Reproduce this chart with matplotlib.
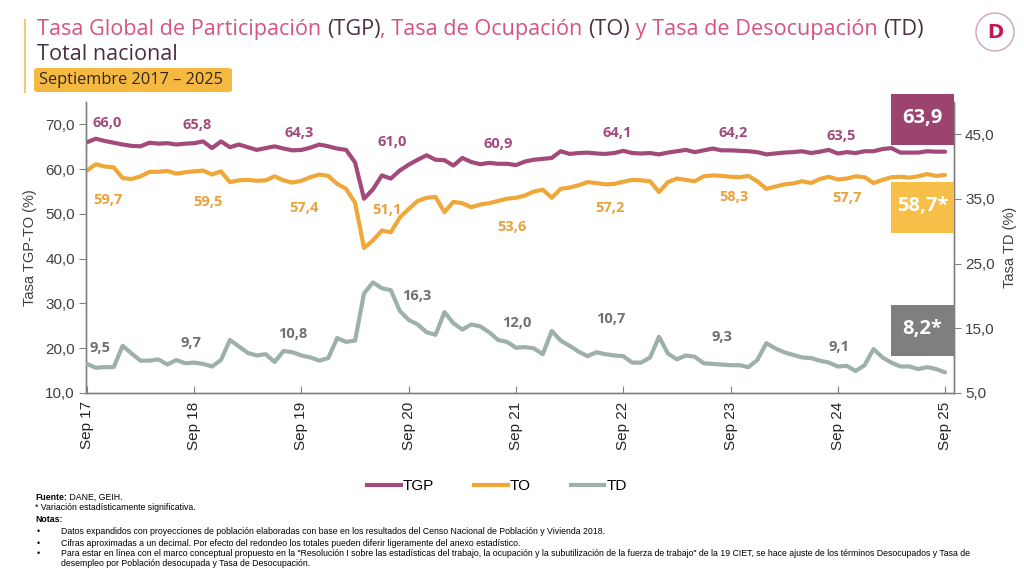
import numpy as np
import matplotlib
matplotlib.use("Agg")
import matplotlib.pyplot as plt
from matplotlib.patches import Rectangle, FancyBboxPatch, Ellipse
from matplotlib.lines import Line2D

# monthly series, Sep 2017 .. Sep 2025
tgp = [66.0, 66.8, 66.3, 65.9, 65.5, 65.2, 65.1, 65.9, 65.7, 65.8, 65.5, 65.7,
       65.8, 66.2, 64.7, 66.2, 64.9, 65.5, 64.9, 64.3, 64.7, 65.1, 64.6, 64.2,
       64.3, 64.8, 65.5, 65.1, 64.6, 64.3, 61.5, 53.4, 55.5, 58.6, 57.9, 59.7,
       61.0, 62.1, 63.1, 62.1, 62.0, 60.8, 62.5, 61.6, 61.1, 61.4, 61.2, 61.2,
       60.9, 61.7, 62.1, 62.3, 62.5, 64.0, 63.4, 63.6, 63.7, 63.5, 63.4, 63.6,
       64.1, 63.6, 63.5, 63.6, 63.3, 63.7, 64.0, 64.3, 63.8, 64.2, 64.6, 64.2,
       64.2, 64.1, 64.0, 63.8, 63.3, 63.5, 63.7, 63.8, 64.0, 63.6, 63.9, 64.3,
       63.5, 63.8, 63.6, 64.0, 64.0, 64.5, 64.7, 63.7, 63.7, 63.7, 64.0, 63.9,
       63.9]
to = [59.7, 61.1, 60.6, 60.4, 58.0, 57.8, 58.4, 59.4, 59.4, 59.6, 59.0, 59.3,
      59.5, 59.7, 58.8, 59.5, 57.1, 57.5, 57.6, 57.4, 57.5, 58.4, 57.5, 57.0,
      57.4, 58.2, 58.8, 58.5, 56.7, 55.6, 52.5, 42.4, 44.1, 46.3, 45.9, 49.2,
      51.1, 52.9, 53.6, 53.8, 50.4, 52.7, 52.4, 51.5, 52.1, 52.4, 52.9, 53.4,
      53.6, 54.1, 55.0, 55.4, 53.6, 55.6, 55.9, 56.4, 57.1, 56.9, 56.6, 56.7,
      57.2, 57.6, 57.5, 57.3, 54.9, 57.1, 57.9, 57.6, 57.3, 58.4, 58.6, 58.5,
      58.3, 58.2, 58.5, 57.3, 55.6, 56.1, 56.6, 56.8, 57.3, 56.9, 57.8, 58.3,
      57.7, 57.9, 58.4, 58.2, 56.9, 57.6, 58.2, 58.3, 58.1, 58.4, 58.9, 58.5,
      58.7]
td = [9.5, 8.9, 9.0, 9.0, 12.3, 11.1, 10.0, 10.0, 10.2, 9.4, 10.1, 9.6,
      9.7, 9.5, 9.1, 10.1, 13.2, 12.2, 11.2, 10.8, 11.0, 9.8, 11.5, 11.3,
      10.8, 10.5, 10.0, 10.4, 13.5, 12.9, 13.1, 20.4, 22.1, 21.2, 20.9, 17.7,
      16.3, 15.6, 14.4, 14.0, 17.5, 15.8, 14.8, 15.6, 15.3, 14.4, 13.2, 12.9,
      12.0, 12.1, 11.9, 11.0, 14.6, 13.1, 12.3, 11.4, 10.7, 11.3, 11.0, 10.8,
      10.7, 9.7, 9.7, 10.5, 13.7, 11.1, 10.2, 10.8, 10.6, 9.6, 9.5, 9.4,
      9.3, 9.3, 9.0, 10.1, 12.7, 11.9, 11.3, 10.9, 10.5, 10.4, 10.0, 9.7,
      9.1, 9.2, 8.4, 9.3, 11.8, 10.5, 9.7, 9.1, 9.1, 8.7, 9.0, 8.7,
      8.2]
tick_labels = ["Sep 17", "Sep 18", "Sep 19", "Sep 20", "Sep 21",
               "Sep 22", "Sep 23", "Sep 24", "Sep 25"]
significant = {"TGP": False, "TO": True, "TD": True}

# label offsets (pixels) from the September point of each year
tgp_off = [(20, 19), (3, 18), (-2, 17), (-17, 23), (-18, 21), (-6, 18), (3, 17), (3, 17)]
to_off = [(21, -30), (14, -31), (3, -27), (-22, -1), (-4, -29), (-13, -26), (3, -20), (9, -19)]
td_off = [(13, 16), (-3, 20), (-9, 21), (8, 24), (1, 25), (-12, 37), (-9, 28), (1, 19)]

C_TGP = "#A24A7B"
C_TO = "#F0A73A"
C_TD = "#9DB0AA"
C_PINK = "#D6547D"
C_DARK = "#4B2E44"

def fmt(v):
    return f"{v:.1f}".replace(".", ",")

def rich_line(fig, x, y, parts, **kw):
    # parts: (text, colour, weight)
    r = fig.canvas.get_renderer()
    W = fig.bbox.width
    for s, c, wt in parts:
        t = fig.text(x, y, s, color=c, va="center", ha="left", fontweight=wt, **kw)
        bb = t.get_window_extent(renderer=r)
        x += bb.width / W

months = np.arange(len(tgp))

fig = plt.figure(figsize=(10.24, 5.75), dpi=100)
ax = fig.add_axes([86 / 1024, 1 - 393 / 575, 868 / 1024, 291 / 575])
ax2 = ax.twinx()

ax.plot(months, tgp, color=C_TGP, lw=3, solid_joinstyle="round", solid_capstyle="round", zorder=3)
ax.plot(months, to, color=C_TO, lw=3, solid_joinstyle="round", solid_capstyle="round", zorder=3)
ax2.plot(months, td, color=C_TD, lw=3, solid_joinstyle="round", solid_capstyle="round", zorder=3)

ax.set_xlim(-0.1, 97.0)
ax.set_ylim(10, 75)
ax2.set_ylim(5, 50)
ax.set_yticks(np.arange(10, 71, 10))
ax2.set_yticks(np.arange(5, 46, 10))
ax.set_yticklabels([fmt(v) for v in np.arange(10, 71, 10)])
ax2.set_yticklabels([fmt(v) for v in np.arange(5, 46, 10)])
ax.set_xticks(np.arange(0, 97, 12))
ax.set_xticklabels(tick_labels, rotation=90)

for a in (ax, ax2):
    a.spines["top"].set_visible(False)
    for s in a.spines.values():
        s.set_color("#808080")
        s.set_linewidth(1)
ax.tick_params(axis="x", direction="in", length=5, color="#808080", labelsize=11,
               labelcolor="#262626", pad=6)
ax.tick_params(axis="y", direction="out", length=5, color="#808080", labelsize=11,
               labelcolor="#404040", pad=3)
ax2.tick_params(axis="y", direction="out", length=5, color="#808080", labelsize=11,
                labelcolor="#404040", pad=3)
for lab in ax.get_xticklabels() + ax.get_yticklabels() + ax2.get_yticklabels():
    lab.set_family("Liberation Sans")

ax.set_ylabel("Tasa TGP-TO (%)", family="Liberation Sans", fontsize=10.5, color="#404040", labelpad=6)
ax2.set_ylabel("Tasa TD (%)", family="Liberation Sans", fontsize=10.5, color="#404040",
               rotation=90, labelpad=6)

# yearly value labels
for k in range(8):
    i = 12 * k
    ax.annotate(fmt(tgp[i]), (i, tgp[i]), xytext=tgp_off[k], textcoords="offset pixels",
                ha="center", va="center", color=C_TGP, fontsize=10.5, fontweight="bold",
                family="Open Sans", zorder=4)
    ax.annotate(fmt(to[i]), (i, to[i]), xytext=to_off[k], textcoords="offset pixels",
                ha="center", va="center", color="#E9A23B", fontsize=10.5, fontweight="bold",
                family="Open Sans", zorder=4)
    ax2.annotate(fmt(td[i]), (i, td[i]), xytext=td_off[k], textcoords="offset pixels",
                 ha="center", va="center", color="#707070", fontsize=10.5, fontweight="bold",
                 family="Open Sans", zorder=4)

# last value boxes
boxes = [("TGP", tgp[-1], "#9C4470", 145), ("TO", to[-1], "#F7BE48", 233), ("TD", td[-1], "#7F7F7F", 356)]
for name, v, col, ybot in boxes:
    x0, w, h = 891 / 1024, 63 / 1024, 51 / 575
    y0 = 1 - ybot / 575
    fig.patches.append(Rectangle((x0, y0), w, h, transform=fig.transFigure,
                                 facecolor=col, edgecolor="none", zorder=5))
    txt = fmt(v) + ("*" if significant[name] else "")
    fig.text(x0 + w / 2, y0 + h / 2 + 0.002, txt, ha="center", va="center", color="white",
             fontsize=14.5, fontweight="bold", family="Open Sans", zorder=6)

# header
fig.add_artist(Line2D([25 / 1024, 25 / 1024], [1 - 20 / 575, 1 - 92 / 575],
                      color="#F6C978", lw=1.5))
rich_line(fig, 37 / 1024, 1 - 30 / 575,
          [("Tasa Global de Participación ", C_PINK, "normal"), ("(TGP)", C_DARK, "normal"),
           (", Tasa de Ocupación ", C_PINK, "normal"), ("(TO)", C_DARK, "normal"),
           (" y Tasa de Desocupación ", C_PINK, "normal"), ("(TD)", C_DARK, "normal")],
          fontsize=15.6, family="Open Sans")
fig.text(37 / 1024, 1 - 55 / 575, "Total nacional", color=C_DARK, fontsize=15.6,
         family="Open Sans", va="center")
fig.patches.append(FancyBboxPatch((34 / 1024, 1 - 92 / 575), 198 / 1024, 24 / 575,
                                  boxstyle="round,pad=0,rounding_size=0.004",
                                  transform=fig.transFigure, facecolor="#F5B942",
                                  edgecolor="none"))
fig.text(39 / 1024, 1 - 80 / 575, "Septiembre 2017 – 2025", color="#33261A", fontsize=11.8,
         family="Open Sans", va="center")

# logo
fig.patches.append(Ellipse((995 / 1024, 1 - 32 / 575), 38 / 1024, 38 / 575,
                           transform=fig.transFigure, facecolor="white",
                           edgecolor="#C9A6B6", lw=1))
fig.text(995 / 1024, 1 - 33 / 575, "D", ha="center", va="center", color="#C2185B",
         fontsize=14, fontweight="heavy", family="DejaVu Sans")

# legend
handles = [Line2D([], [], color=C_TGP, lw=3), Line2D([], [], color=C_TO, lw=3),
           Line2D([], [], color=C_TD, lw=3)]
fig.legend(handles, ["TGP", "TO", "TD"], loc="center", bbox_to_anchor=(497 / 1024, 1 - 486 / 575),
           ncol=3, frameon=False, handlelength=2.2, handletextpad=0.15, columnspacing=2.6,
           prop={"family": ["Liberation Sans Narrow", "Liberation Sans"], "size": 11})

# notes
nfam = ["Liberation Sans Narrow", "Liberation Sans"]
ns = 6.3
rich_line(fig, 35 / 1024, 1 - 497 / 575,
          [("Fuente:", "black", "bold"), (" DANE, GEIH.", "black", "normal")],
          fontsize=ns, family=nfam)
fig.text(35 / 1024, 1 - 508 / 575, "* Variación estadísticamente significativa.", fontsize=ns, family=nfam, va="center")
fig.text(35 / 1024, 1 - 519 / 575, "Notas:", fontsize=ns, family=nfam, fontweight="bold", va="center")
notes = [
    (532, "Datos expandidos con proyecciones de población elaboradas con base en los resultados del Censo Nacional de Población y Vivienda 2018.", True),
    (543, "Cifras aproximadas a un decimal. Por efecto del redondeo los totales pueden diferir ligeramente del anexo estadístico.", True),
    (553, "Para estar en línea con el marco conceptual propuesto en la \"Resolución I sobre las estadísticas del trabajo, la ocupación y la subutilización de la fuerza de trabajo\" de la 19 CIET, se hace ajuste de los términos Desocupados y Tasa de", True),
    (564, "desempleo por Población desocupada y Tasa de Desocupación.", False),
]
for y, s, bullet in notes:
    if bullet:
        fig.text(37 / 1024, 1 - y / 575, "•", fontsize=ns, family=nfam, va="center")
    fig.text(61 / 1024, 1 - y / 575, s, fontsize=ns, family=nfam, va="center")

fig.savefig("out.png", dpi=100, facecolor="white")
